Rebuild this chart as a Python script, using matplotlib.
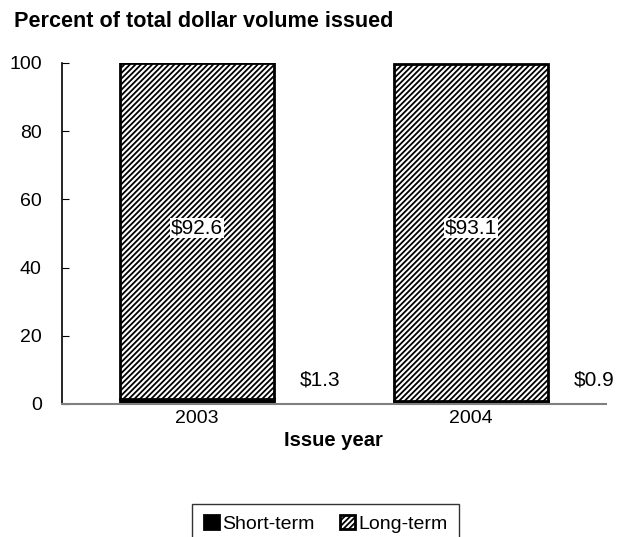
import matplotlib
matplotlib.use("Agg")
import matplotlib.pyplot as plt
import numpy as np

plt.rcParams['font.family'] = ['Liberation Sans', 'DejaVu Sans']
plt.rcParams['hatch.linewidth'] = 1.3

years = ["2003", "2004"]
short_pct = [1.4, 1.0]
long_pct = [98.6, 98.7]
short_labels = ["$1.3", "$0.9"]
long_labels = ["$92.6", "$93.1"]
yticks = [0, 20, 40, 60, 80, 100]

fig = plt.figure(figsize=(6.23, 5.37), dpi=100)
ax = fig.add_axes([0.0995, 0.2477, 0.873, 0.635])

x = np.arange(len(years))
w = 0.56
b1 = ax.bar(x, short_pct, width=w, color='black', edgecolor='black', linewidth=2, label='Short-term')
b2 = ax.bar(x, long_pct, width=w, bottom=short_pct, color='white', edgecolor='black',
            linewidth=2, hatch='//////', label='Long-term')

for i in range(len(years)):
    ax.text(x[i], 51.5, long_labels[i], ha='center', va='center', fontsize=15,
            bbox=dict(facecolor='white', edgecolor='none', pad=0.5))
    ax.text(x[i] + 0.45, 7, short_labels[i], ha='center', va='center', fontsize=15)

ax.set_xlim(-0.493, 1.493)
ax.set_ylim(0, 100)
ax.set_yticks(yticks)
ax.set_xticks(x)
ax.set_xticklabels(years, fontsize=14)
ax.tick_params(axis='y', direction='in', length=5, labelsize=14, pad=14.5)
ax.tick_params(axis='x', length=0, pad=4)
ax.spines['top'].set_visible(False)
ax.spines['right'].set_visible(False)
ax.spines['bottom'].set_color('#808080')
ax.spines['bottom'].set_linewidth(1.5)
ax.spines['left'].set_linewidth(1.2)
ax.set_xlabel("Issue year", fontsize=14.5, fontweight='bold', labelpad=3)

fig.text(0.022, 0.96, "Percent of total dollar volume issued", fontsize=15.6,
         fontweight='bold', ha='left', va='center')

leg = fig.legend(handles=[b1, b2], loc='upper left', bbox_to_anchor=(0.308, 0.062),
                 ncol=2, fontsize=14, frameon=True, fancybox=False, edgecolor='black',
                 handlelength=0.8, handleheight=0.7, handletextpad=0.15, columnspacing=1.3,
                 borderpad=0.6, borderaxespad=0)
leg.get_frame().set_linewidth(1)

fig.savefig("out.png", dpi=100)
